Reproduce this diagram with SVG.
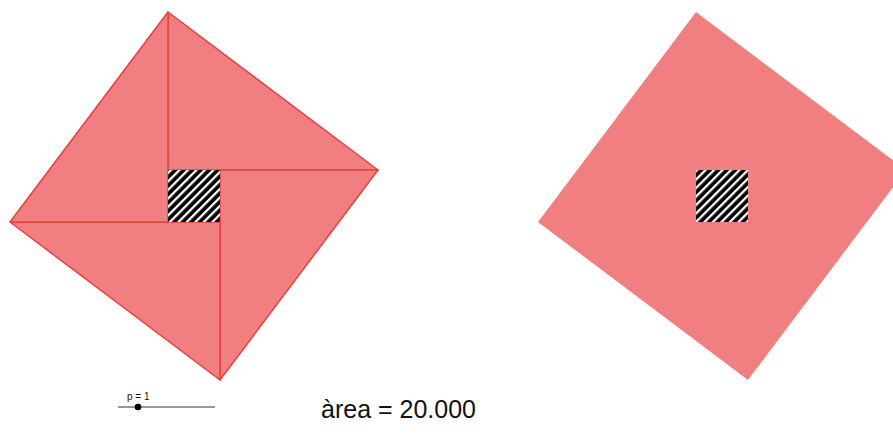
<svg xmlns="http://www.w3.org/2000/svg" width="893" height="434" viewBox="0 0 893 434">
  <style>
    .tri { fill: #F17F81; stroke: #E5423C; stroke-width: 1.5; stroke-linejoin: round; }
    .full { fill: #F17F81; }
    .hatch { fill: url(#stripes); }
    .lbl { font-family: "Liberation Sans", Arial, sans-serif; fill: #111; }
  </style>
  <defs>
    <pattern id="stripes" patternUnits="userSpaceOnUse" width="6" height="10" patternTransform="rotate(45)">
      <rect width="6" height="10" fill="#000"/>
      <rect x="0" width="2.3" height="10" fill="#fff"/>
    </pattern>
  </defs>
  <rect width="893" height="434" fill="#fff"/>

  <g id="left-square">
    <polygon class="tri" points="168,12 378,170 168,170"/>
    <polygon class="tri" points="378,170 220,380 220,170"/>
    <polygon class="tri" points="220,380 10,222 220,222"/>
    <polygon class="tri" points="10,222 168,12 168,222"/>
    <rect class="hatch" x="168" y="170" width="52" height="52"/>
  </g>

  <g id="right-square">
    <polygon class="full" points="696,12 906,170 748,380 538,222"/>
    <rect class="hatch" x="696" y="170" width="52" height="52"/>
  </g>

  <g id="slider">
    <line x1="118" y1="407" x2="215" y2="407" stroke="#777" stroke-width="1.5"/>
    <circle cx="138" cy="407" r="3.3" fill="#000"/>
    <text class="lbl" x="127" y="400" font-size="10">p = 1</text>
  </g>

  <text class="lbl" x="321" y="418" font-size="25">àrea = 20.000</text>
</svg>
